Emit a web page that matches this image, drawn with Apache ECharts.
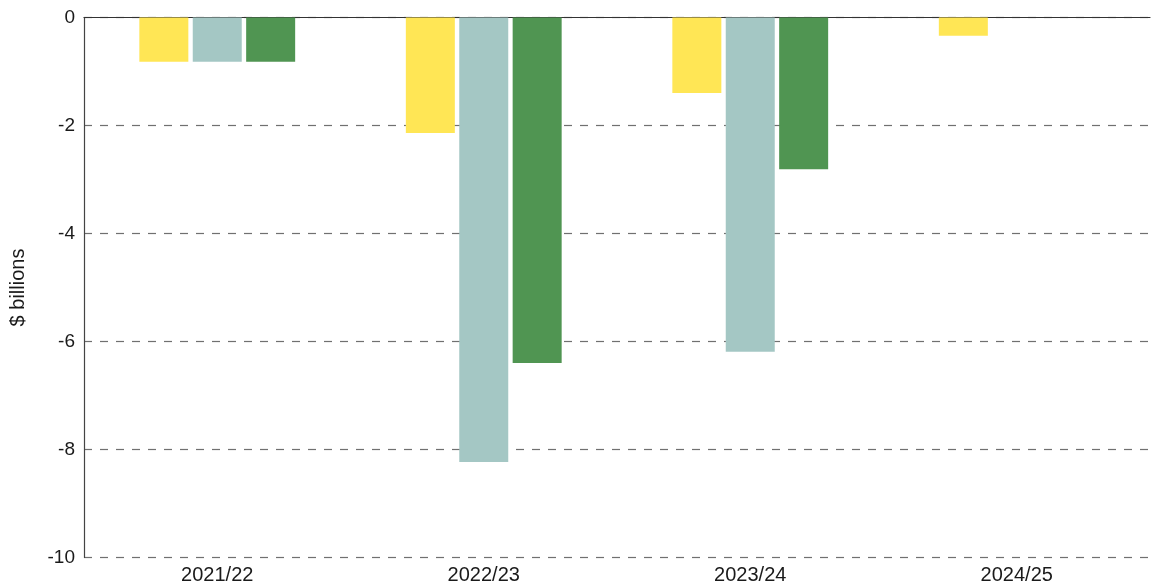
<!DOCTYPE html>
<html>
<head>
<meta charset="utf-8">
<script src="https://cdn.jsdelivr.net/npm/echarts@6/dist/echarts.min.js"></script>
<style>html,body{margin:0;padding:0;background:#fff}#c{width:1152px;height:586px}</style>
</head>
<body>
<div id="c"></div>
<script>
const categories = ['2021/22', '2022/23', '2023/24', '2024/25'];
const seriesA = [-0.82, -2.14, -1.40, -0.34];
const seriesB = [-0.82, -8.23, -6.19, null];
const seriesC = [-0.82, -6.40, -2.81, null];
const yTicks = [0, -2, -4, -6, -8, -10];

const chart = echarts.init(document.getElementById('c'), null, {renderer: 'canvas'});
const font = 'Liberation Sans, Arial, sans-serif';
const bar = (data, color) => ({
  type: 'bar', data, barWidth: 49, barGap: '9%',
  itemStyle: {color}, xAxisIndex: 0, yAxisIndex: 0
});
chart.setOption({
  animation: false,
  grid: {left: 79, right: 2, top: 17.5, bottom: 28.5, containLabel: false},
  xAxis: [{
    type: 'category', data: categories, position: 'bottom',
    axisLine: {show: false, onZero: false}, axisTick: {show: false},
    axisLabel: {color: '#1a1a1a', fontSize: 20, fontFamily: font, margin: 8}
  }, {
    type: 'category', data: categories, position: 'top',
    axisLine: {show: true, onZero: false, lineStyle: {color: '#333', width: 1.2}},
    axisTick: {show: false}, axisLabel: {show: false}
  }],
  yAxis: {
    type: 'value', min: -10, max: 0, interval: 2,
    name: '$ billions', nameLocation: 'middle', nameGap: 56, nameRotate: 90,
    nameTextStyle: {color: '#1a1a1a', fontSize: 20, fontFamily: font},
    axisLine: {show: true, lineStyle: {color: '#444', width: 1.2}},
    axisTick: {show: false},
    axisLabel: {color: '#1a1a1a', fontSize: 19, fontFamily: font, margin: 9,
      formatter: v => yTicks.includes(v) ? String(v) : ''},
    splitLine: {show: true, lineStyle: {color: '#707070', width: 1.2, type: [8, 8]}}
  },
  series: [
    bar(seriesA, '#FFE655'),
    bar(seriesB, '#A4C7C4'),
    bar(seriesC, '#509552')
  ]
});
</script>
</body>
</html>
